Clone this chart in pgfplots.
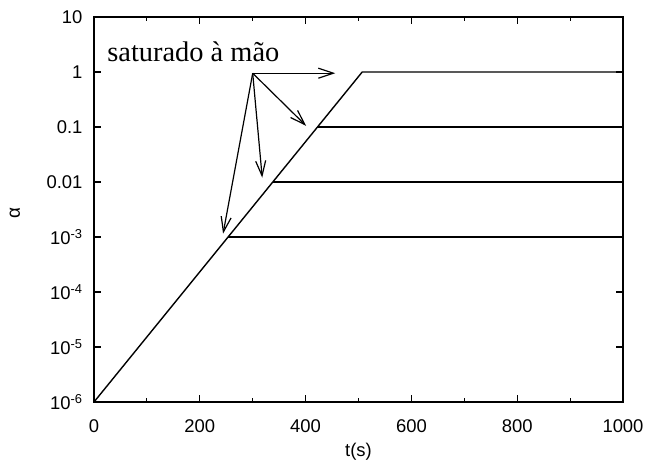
\documentclass[border=0pt]{standalone}
\usepackage{fontspec}
\setmainfont{Liberation Sans}
\newfontfamily\serifa{Liberation Serif}
\usepackage{pgfplots}
\pgfplotsset{compat=1.18}
\usetikzlibrary{arrows.meta}
\begin{document}
\begin{tikzpicture}
\begin{axis}[
  scale only axis,
  width=529bp, height=385bp,
  xmin=0, xmax=1000,
  ymode=log, ymin=1e-6, ymax=10,
  xtick={0,200,400,600,800,1000},
  minor xtick={100,300,500,700,900},
  ytick={1e-6,1e-5,1e-4,1e-3,1e-2,1e-1,1,10},
  yticklabels={10\textsuperscript{-6},10\textsuperscript{-5},10\textsuperscript{-4},10\textsuperscript{-3},0.01,0.1,1,10},
  yminorticks=false,
  /pgf/number format/assume math mode=true,
  /pgf/number format/1000 sep={},
  tick align=inside,
  major tick length=7bp,
  minor tick length=4bp,
  tick style={line width=1.1bp, black},
  axis line style={line width=1.3bp},
  tick label style={font=\fontsize{18.5}{21}\selectfont},
  xticklabel style={yshift=-14bp},
  yticklabel style={xshift=-8bp},
  xlabel={t(s)},
  xlabel style={font=\fontsize{18.5}{21}\selectfont, yshift=-4bp},
  clip=false,
]
\addplot[black, line width=1.4bp] coordinates {(0,1e-6) (507,1) (1000,1)};
\addplot[black, line width=1.4bp] coordinates {(422.5,0.1) (1000,0.1)};
\addplot[black, line width=1.4bp] coordinates {(338,0.01) (1000,0.01)};
\addplot[black, line width=1.4bp] coordinates {(253.5,0.001) (1000,0.001)};
\draw[line width=1.2bp, -{Straight Barb[length=15bp,width=10bp]}] (axis cs:300,0.95) -- (axis cs:456,0.95);
\draw[line width=1.2bp, -{Straight Barb[length=15bp,width=10bp]}] (axis cs:300,0.95) -- (axis cs:401,0.105);
\draw[line width=1.2bp, -{Straight Barb[length=15bp,width=10bp]}] (axis cs:300,0.95) -- (axis cs:318,0.012);
\draw[line width=1.2bp, -{Straight Barb[length=15bp,width=10bp]}] (axis cs:300,0.95) -- (axis cs:244,0.00115);
\node[anchor=base west, inner sep=0pt, font=\serifa\fontsize{28.5}{32}\selectfont] at (axis cs:25,1.58) {saturado à mão};
\node[rotate=90, inner sep=0pt, font=\fontsize{19}{21}\selectfont] at ([xshift=-79bp]rel axis cs:0,0.49) {α};
\coordinate (bl) at (rel axis cs:0,0);
\coordinate (tr) at (rel axis cs:1,1);
\end{axis}
\pgfresetboundingbox
\path ([shift={(-94bp,-63bp)}]bl) rectangle ([shift={(25bp,17bp)}]tr);
\end{tikzpicture}
\end{document}
